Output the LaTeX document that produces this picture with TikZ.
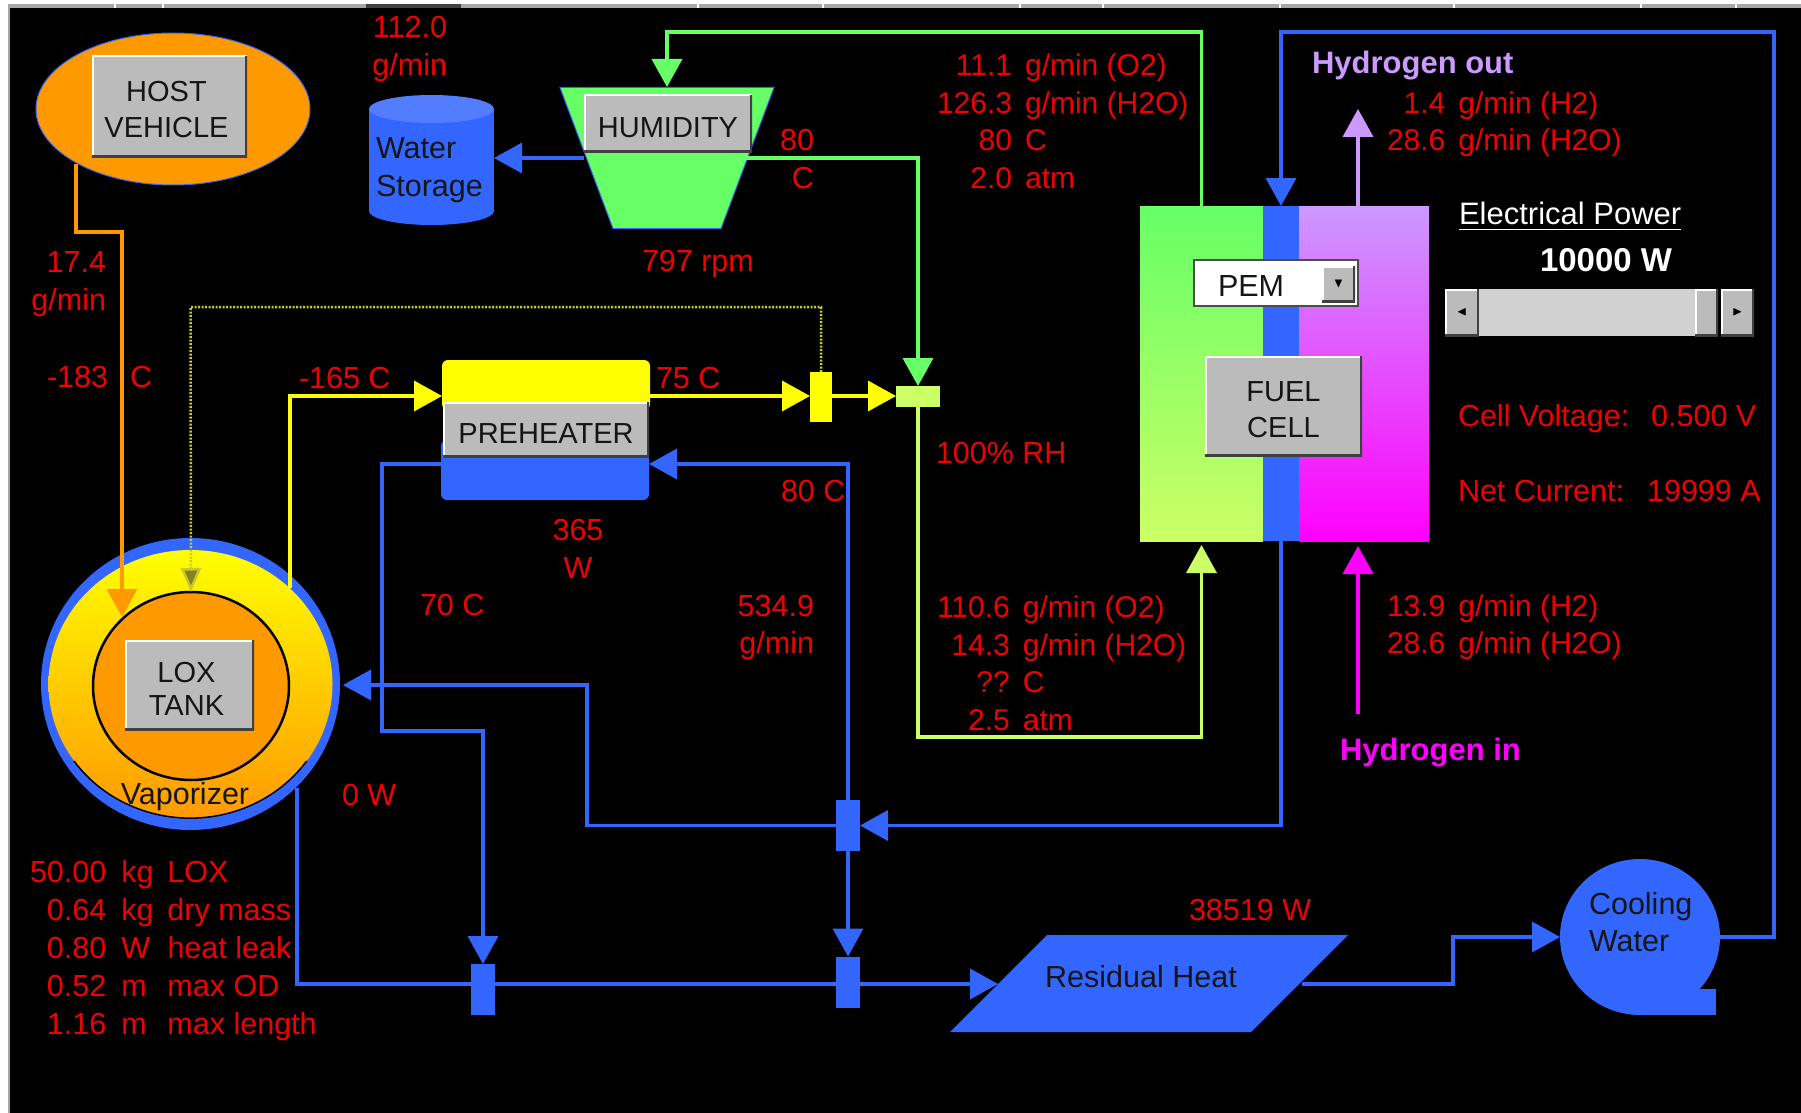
\documentclass[tikz,border=0pt]{standalone}
\usepackage{xcolor}
\usepackage{amssymb}
\usepackage{fontspec}
\setmainfont{Liberation Sans}
\usepackage{array}
\usetikzlibrary{arrows.meta, shapes.geometric}
\definecolor{pipeblue}{HTML}{3366FF}
\definecolor{pipegreen}{HTML}{66FF66}
\definecolor{pipelime}{HTML}{CCFF66}
\definecolor{pipeyellow}{HTML}{FFFF00}
\definecolor{pipeorange}{HTML}{FF9900}
\definecolor{pipepurple}{HTML}{CC99FF}
\definecolor{pipemagenta}{HTML}{FF00FF}
\definecolor{pipedot}{HTML}{C8C832}
\definecolor{panelgray}{HTML}{BBBBBB}
\definecolor{readred}{HTML}{F00000}
\definecolor{inkdark}{HTML}{151515}
\newcommand{\flowtab}[1]{{\fontsize{30}{37.8}\selectfont\begin{tabular}{@{}r@{\hspace{13pt}}l@{}}#1\end{tabular}}}
\newcommand{\btntext}[2][12.5pt]{\raisebox{0pt}[\dimexpr\height+#1\relax][\depth]{\begin{tabular}{@{}c@{}}#2\end{tabular}}}

\begin{document}
\begin{tikzpicture}[
  x=1pt, y=-1pt,
  every node/.style={inner sep=0pt, outer sep=0pt},
  panelbtn/.style={
    rectangle, fill=panelgray, text=inkdark,
    font=\fontsize{29}{36}\selectfont,
    path picture={
      \draw[white, line width=3pt] (path picture bounding box.south west) |- (path picture bounding box.north east);
      \draw[black!75, line width=5pt] (path picture bounding box.south west) -| (path picture bounding box.north east);
    }
  },
  arrowbtn/.style={panelbtn, font=\fontsize{13}{13}\selectfont, text=black},
  readout/.style={text=readred, font=\fontsize{30.5}{37.8}\selectfont, align=right, yshift=-2.5pt},
  darklabel/.style={text=inkdark, font=\fontsize{30.5}{37.5}\selectfont, align=left, yshift=-2pt},
  solidbox/.style={rectangle, fill=#1},
  valvebox/.style={rectangle, fill=#1, minimum width=24pt, minimum height=51pt},
  pipe/.style={line width=3.6pt, color=#1, -{Triangle[length=28pt, width=30pt]}},
]

% Backdrop and window edge
\fill[white] (0,0) rectangle (1801,1113);
\fill[black] (10,8) rectangle (1801,1113);
\fill[black!35] (8,4) rectangle (1801,8);
\fill[black!35] (8,4) rectangle (10,1113);
\fill[black!75] (366,4) rectangle (461,8);
\foreach \tickx in {114,162,697,822,1019,1102,1279,1453,1640,1735}
  \fill[white] (\tickx,4) rectangle (\tickx+1.5,8);
\useasboundingbox (0,0) rectangle (1801,1113);
\coordinate (toprow) at (0,32);
\coordinate (dotrow) at (0,307);
\coordinate (vapbend) at (587,685);
\coordinate (vapin) at (343,685);
\coordinate (lowbend) at (382,731);
\coordinate (hostbend) at (122,232);
\coordinate (oxin) at (122,617);
\coordinate (pumptop) at (1774,32);

% Host vehicle and LOX tank
\node[ellipse, fill=pipeorange, draw=pipeblue, line width=1pt, minimum width=274pt, minimum height=152pt] (host) at (173,109) {};
\node[panelbtn, minimum width=155pt, minimum height=101pt] (hostbtn) at (169.5,106.5) {\kern-6pt\btntext{HOST\\VEHICLE}};
\node[ellipse, fill=pipeblue, minimum width=299pt, minimum height=292pt] (vapring) at (190.5,684) {};
\node[ellipse, top color=pipeyellow, bottom color=pipeorange, minimum width=284pt, minimum height=268pt] (vaporizer) at (190.5,684) {};
\draw[black, line width=1.5pt] (74,761) arc[start angle=215, end angle=325, x radius=142pt, y radius=134pt];
\node[ellipse, fill=pipeorange, draw=black, line width=2.5pt, minimum width=196pt, minimum height=188pt] (lox) at (191,686) {};
\node[panelbtn, font=\fontsize{29}{32.5}\selectfont, minimum width=129pt, minimum height=90pt] (loxbtn) at (189.5,685) {\kern-6pt\btntext[15pt]{LOX\\TANK}};
\node[darklabel] (vaplabel) at (185,795) {Vaporizer};

% Water and humidity
\node[ellipse, fill=pipeblue, minimum width=125pt, minimum height=28pt] (storagebase) at (431.5,211) {};
\node[solidbox=pipeblue, minimum width=125pt, minimum height=102pt] (storage) at (431.5,160) {};
\node[ellipse, fill=pipeblue!85!white, minimum width=125pt, minimum height=28pt] (storagetop) at (431.5,109) {};
\node[darklabel, anchor=west] (storagelabel) at (376,168) {Water\\Storage};
\node[trapezium, shape border rotate=180, trapezium stretches body=true, inner sep=1pt, text height=139pt, text depth=0pt, fill=pipegreen, draw=pipeblue, line width=1pt, minimum width=214pt, trapezium left angle=69.4, trapezium right angle=69.4] (humidity) at (667,158) {};
\node[panelbtn, minimum width=168pt, minimum height=57pt] (humbtn) at (668,123.5) {\btntext[14pt]{HUMIDITY}};

% Preheater stack
\node[rectangle, rounded corners=6pt, fill=pipeyellow, minimum width=208pt, minimum height=50pt] (preyellow) at (546,385) {};
\node[rectangle, rounded corners=6pt, fill=pipeblue, minimum width=208pt, minimum height=60pt] (preblue) at (545,470) {};
\node[panelbtn, minimum width=206pt, minimum height=55pt] (prebtn) at (546,429.5) {\btntext[14pt]{PREHEATER}};

% Valves
\node[valvebox=pipeyellow, minimum width=22pt, minimum height=50pt] (valveyellow) at (821,397) {};
\node[solidbox=pipelime, minimum width=44pt, minimum height=21pt] (mixer) at (918,396.5) {};
\node[valvebox=pipeblue] (valvetop) at (848,825.5) {};
\node[valvebox=pipeblue] (valvemid) at (848,982) {};
\node[valvebox=pipeblue] (valveleft) at (483,989.5) {};

% Fuel cell
\node[rectangle, top color=pipegreen, bottom color=pipelime, minimum width=123pt, minimum height=335pt] (fuelgreen) at (1201.5,373.5) {};
\node[rectangle, fill=pipeblue, minimum width=36pt, minimum height=335pt] (fuelblue) at (1281,373.5) {};
\node[rectangle, top color=pipepurple, bottom color=pipemagenta, minimum width=130pt, minimum height=335pt] (fuelpink) at (1364,373.5) {};
\node[rectangle, fill=white, draw=black!70, line width=2pt, minimum width=164pt, minimum height=46pt] (pembox) at (1276,283) {};
\node[arrowbtn, minimum width=33pt, minimum height=36pt] (pembtn) at (1338.5,284) {$\blacktriangledown$};
\node[darklabel, anchor=west] (pemlabel) at (1218,284) {PEM};
\node[panelbtn, minimum width=157pt, minimum height=100pt] (fuelbtn) at (1283.5,406) {\btntext{FUEL\\CELL}};

% Residual heat and pump
\node[trapezium, trapezium stretches body=true, inner sep=1pt, text height=95pt, text depth=0pt, fill=pipeblue, trapezium left angle=45, trapezium right angle=135, minimum width=398pt] (residual) at (1149,983.5) {};
\node[darklabel] (residlabel) at (1141,975) {Residual Heat};
\node[ellipse, fill=pipeblue, minimum width=160pt, minimum height=156pt] (pump) at (1640,937) {};
\node[solidbox=pipeblue, anchor=south east, minimum width=76pt, minimum height=26pt] (pumptail) at (1716,1015) {};
\node[darklabel, anchor=west] (pumplabel) at (1589,920) {Cooling\\Water};

% Scrollbar
\node[arrowbtn, minimum width=34pt, minimum height=47pt] (scrollleft) at (1462,312.5) {$\blacktriangleleft$};
\node[rectangle, fill=black!18, anchor=west, minimum width=216pt, minimum height=47pt] (scrolltrack) at (1479,312.5) {};
\node[panelbtn, minimum width=23pt, minimum height=47pt] (scrollthumb) at (1706.5,312.5) {};
\node[arrowbtn, minimum width=33pt, minimum height=47pt] (scrollright) at (1737.5,312.5) {$\blacktriangleright$};

% Connectors
\draw[pipe=pipeorange] (76,164) coordinate (hostout) |- (hostbend) -- (oxin);
\draw[pipe=pipegreen] (fuelgreen.north) -- (fuelgreen.north |- toprow) -| (humidity.center |- 0,87);
\draw[pipe=pipeblue] (humidity.center -| humbtn.west) -- (storage.east |- humidity.center);
\draw[pipe=pipegreen] (746,158) coordinate (humout) -| (mixer.north);
\draw[pipe=pipelime, shorten >=4pt] (mixer.south) |- (fuelgreen.south |- 0,737) -- (fuelgreen.south);
\draw[pipe=pipeyellow] (290,588) coordinate (vapout) |- (preyellow.west |- 0,396);
\draw[pipe=pipeyellow] (preyellow.east |- 0,396) -- (valveyellow.west |- 0,396);
\draw[pipe=pipeyellow] (valveyellow.east |- 0,396) -- (mixer.west |- 0,396);
\draw[line width=2.5pt, color=pipedot, dash pattern=on 2pt off 1.5pt, -{Triangle[length=24pt, width=20pt, fill=pipedot!65!black]}] (valveyellow.north) |- (vaporizer.north |- dotrow) -- (lox.north);
\draw[pipe=pipeblue] (preblue.west |- 0,464) -| (lowbend) -| (valveleft.north);
\draw[pipe=pipeblue] (valvetop.north) |- (preblue.east |- 0,464);
\draw[pipe=pipeblue] (valvetop.west) -| (vapbend) -- (vapin);
\draw[pipe=pipeblue] (fuelblue.south) |- (valvetop.east);
\draw[pipe=pipeblue] (valvetop.south) -- (valvemid.north);
\draw[pipe=pipeblue, -] (297,788) coordinate (vapdrain) |- (valveleft.west |- 0,984);
\draw[pipe=pipeblue, -] (valveleft.east |- 0,984) -- (valvemid.west |- 0,984);
\draw[pipe=pipeblue] (valvemid.east |- 0,984) -- (998,984) coordinate (resin);
\draw[pipe=pipeblue] (1302,984) coordinate (resout) -| (1453,937) coordinate (pumpbend) -- (pump.west);
\draw[pipe=pipeblue] (pump.east) -| (pumptop) -| (fuelblue.north);
\draw[pipe=pipepurple] (1358,206) coordinate (h2out) -- (1358,109) coordinate (h2outtip);
\draw[pipe=pipemagenta] (1358,714) coordinate (h2in) -- (1358,546) coordinate (h2intip);

% Readouts
\node[readout, anchor=east] (waterflow) at (447,46.5) {112.0\\g/min};
\node[readout, anchor=east] (oxflow) at (106,282) {17.4\\g/min};
\node[readout, anchor=west] (oxtemp) at (47,374.5) {-183\hspace{22pt}C};
\node[readout, anchor=west] (pretempin) at (299,375.5) {-165 C};
\node[readout, anchor=west] (pretempout) at (656,375.5) {75 C};
\node[readout, anchor=east] (humtemp) at (814,156.5) {80\\C};
\node[readout, anchor=west] (humrpm) at (642,262) {797 rpm};
\node[readout, anchor=west] (humrh) at (936,450.5) {100\% RH};
\node[readout, anchor=west] (coolintemp) at (781,488.5) {80 C};
\node[readout, align=center] (preheat) at (578,546) {365\\W};
\node[readout, anchor=west] (coolouttemp) at (420,602.5) {70 C};
\node[readout, anchor=east] (coolflow) at (814,625) {534.9\\g/min};
\node[readout, anchor=west] (vapheat) at (342,792.5) {0 W};
\node[readout, anchor=west] (resheat) at (1189,907.5) {38519 W};
\node[readout, anchor=west, align=left] (cellvolt) at (1458,416) {Cell Voltage:\hspace{22pt}0.500 V};
\node[readout, anchor=west, align=left] (cellamp) at (1458,488.5) {Net Current:\hspace{23pt}19999 A};
\node[readout, anchor=west] (cathodeout) at (937,122) {\flowtab{11.1 & g/min (O2)\\126.3 & g/min (H2O)\\80 & C\\2.0 & atm}};
\node[readout, anchor=west] (cathodein) at (937,664) {\flowtab{110.6 & g/min (O2)\\14.3 & g/min (H2O)\\?? & C\\2.5 & atm}};
\node[readout, anchor=west] (anodeout) at (1387,122) {\flowtab{1.4 & g/min (H2)\\28.6 & g/min (H2O)}};
\node[readout, anchor=west] (anodein) at (1387,625) {\flowtab{13.9 & g/min (H2)\\28.6 & g/min (H2O)}};
\node[readout, anchor=west] (tankspec) at (30,948.5) {\begin{tabular}{@{}r@{\hspace{15pt}}l@{\hspace{14pt}}l@{}}50.00 & kg & LOX\\0.64 & kg & dry mass\\0.80 & W & heat leak\\0.52 & m & max OD\\1.16 & m & max length\end{tabular}};
\node[anchor=west, text=pipepurple, font=\fontsize{31}{36}\selectfont\bfseries] (h2outlabel) at (1312,66) {Hydrogen out};
\node[anchor=west, text=pipemagenta, font=\fontsize{31}{36}\selectfont\bfseries] (h2inlabel) at (1340,753) {Hydrogen in};
\node[anchor=west, text=white, font=\fontsize{31}{36}\selectfont] (powerlabel) at (1459,217) {\underline{Electrical Power}};
\node[anchor=west, text=white, font=\fontsize{33}{36}\selectfont\bfseries] (powerval) at (1540,260) {10000 W};

\end{tikzpicture}
\end{document}
